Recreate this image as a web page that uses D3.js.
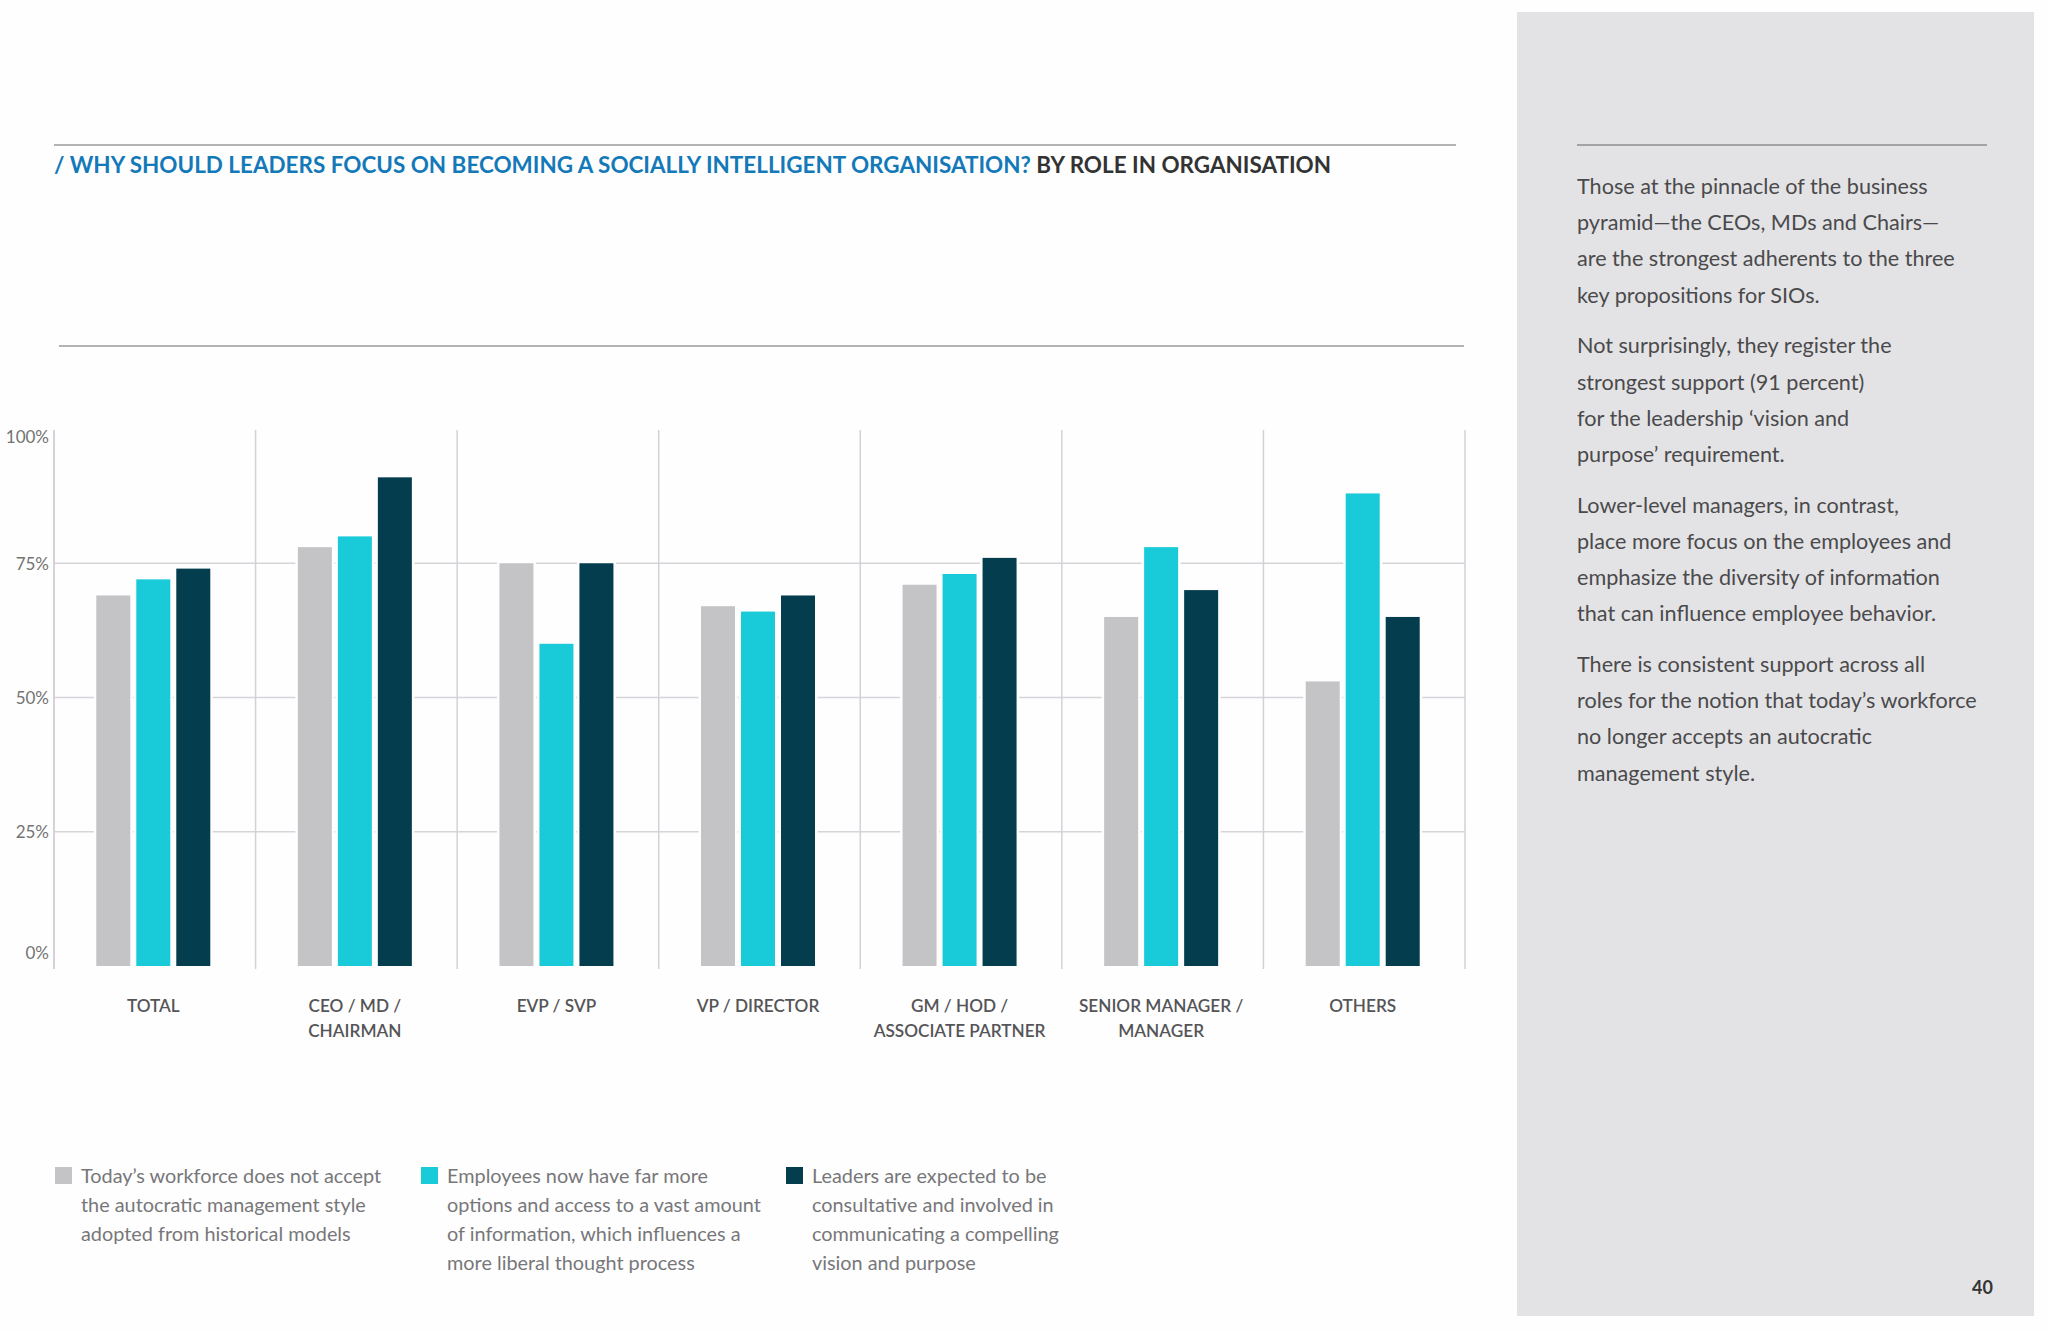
<!DOCTYPE html>
<html>
<head>
<meta charset="utf-8">
<script src="https://cdn.jsdelivr.net/npm/d3@7"></script>
<style>
  body { margin: 0; background: #fefefe; }
  svg { display: block; font-family: Lato, "Noto Sans", sans-serif; }
</style>
</head>
<body>
<svg id="page" width="2048" height="1331"></svg>
<script>
// chart data
var categories = ['TOTAL', 'CEO / MD /|CHAIRMAN', 'EVP / SVP', 'VP / DIRECTOR',
                  'GM / HOD /|ASSOCIATE PARTNER', 'SENIOR MANAGER /|MANAGER', 'OTHERS']
var seriesKeys = ['workforce', 'employees', 'leaders']
var workforce = [69, 78, 75, 67, 71, 65, 53]
var employees = [72, 80, 60, 66, 73, 78, 88]
var leaders   = [74, 91, 75, 69, 76, 70, 65]
var yTicks = [0, 25, 50, 75, 100]
var gridTicks = [25, 50, 75]

var legendTexts = [
  ['Today\u2019s workforce does not accept', 'the autocratic management style', 'adopted from historical models'],
  ['Employees now have far more', 'options and access to a vast amount', 'of information, which influences a', 'more liberal thought process'],
  ['Leaders are expected to be', 'consultative and involved in', 'communicating a compelling', 'vision and purpose']
]
var titleBlue = '/ WHY SHOULD LEADERS FOCUS ON BECOMING A SOCIALLY INTELLIGENT ORGANISATION?'
var titleDark = ' BY ROLE IN ORGANISATION'
var sideParagraphs = [
  ['Those at the pinnacle of the business', 'pyramid\u2014the CEOs, MDs and Chairs\u2014', 'are the strongest adherents to the three', 'key propositions for SIOs.'],
  ['Not surprisingly, they register the', 'strongest support (91 percent)', 'for the leadership \u2018vision and', 'purpose\u2019 requirement.'],
  ['Lower-level managers, in contrast,', 'place more focus on the employees and', 'emphasize the diversity of information', 'that can influence employee behavior.'],
  ['There is consistent support across all', 'roles for the notion that today\u2019s workforce', 'no longer accepts an autocratic', 'management style.']
]
var pageNumber = '40'

var colors = {workforce: '#c4c3c6', employees: '#19cad8', leaders: '#033d4e'}

var rows = categories.map(function(c, i){
	return {cat: c, workforce: workforce[i], employees: employees[i], leaders: leaders[i]}
})

var svg = d3.select('#page')

// size a font so that a sample line comes out at the wanted width
function fitSize(sample, weight, target, base){
	var t = svg.append('text').attr('font-size', base).attr('font-weight', weight).text(sample)
	var w = t.node().getComputedTextLength()
	t.remove()
	return base * target / w
}

// side panel
svg.append('rect').attr('x', 1517).attr('y', 12).attr('width', 517).attr('height', 1304).attr('fill', '#e3e3e5')
svg.append('line').attr('x1', 1577).attr('x2', 1987).attr('y1', 145).attr('y2', 145)
	.attr('stroke', '#8e8e90').attr('stroke-width', 1.5)

var sideSize = fitSize('roles for the notion that today\u2019s workforce', 400, 400, 20)
var lineNo = 0
sideParagraphs.forEach(function(p, pi){
	p.forEach(function(line){
		svg.append('text')
			.attr('x', 1577)
			.attr('y', 194 + lineNo * 36.2 + pi * 14.5)
			.attr('font-size', sideSize)
			.attr('fill', '#4a4a4c')
			.text(line)
		lineNo++
	})
})
svg.append('text').attr('x', 1993).attr('y', 1294).attr('text-anchor', 'end')
	.attr('font-size', 18).attr('font-weight', 700).attr('fill', '#333').text(pageNumber)

// title
svg.append('line').attr('x1', 54).attr('x2', 1456).attr('y1', 145).attr('y2', 145)
	.attr('stroke', '#9a9a9c').attr('stroke-width', 1.5)
var title = svg.append('text').attr('x', 54).attr('y', 173).attr('font-size', 22).attr('font-weight', 700)
title.append('tspan').attr('fill', '#1479b8').text(titleBlue)
title.append('tspan').attr('fill', '#333').text(titleDark)
title.attr('textLength', 1277).attr('lengthAdjust', 'spacingAndGlyphs')

svg.append('line').attr('x1', 59).attr('x2', 1464).attr('y1', 346).attr('y2', 346)
	.attr('stroke', '#9a9a9c').attr('stroke-width', 1.5)

// chart
var plotLeft = 54, plotRight = 1465, plotTop = 429, plotBottom = 966

var x = d3.scaleBand().domain(categories).range([plotLeft, plotRight]).padding(0)
var y = d3.scaleLinear().domain([0, 100]).range([plotBottom, plotTop])
var clusterW = 114
var x1 = d3.scaleBand().domain(seriesKeys).range([0, clusterW]).paddingInner(0.15)

var chart = svg.append('g')

chart.selectAll('.grid').data(gridTicks).enter().append('line')
	.attr('class', 'grid')
	.attr('x1', plotLeft).attr('x2', plotRight)
	.attr('y1', function(d){ return y(d) }).attr('y2', function(d){ return y(d) })
	.attr('stroke', '#d6d4d9').attr('stroke-width', 1.5)

var seps = [plotLeft].concat(categories.map(function(c){ return x(c) + x.bandwidth() }))
chart.selectAll('.sep').data(seps).enter().append('line')
	.attr('class', 'sep')
	.attr('x1', function(d){ return d }).attr('x2', function(d){ return d })
	.attr('y1', plotTop + 1).attr('y2', plotBottom + 3)
	.attr('stroke', '#d3d1d6').attr('stroke-width', 1.5)

var groups = chart.selectAll('.grp').data(rows).enter().append('g')
	.attr('class', 'grp')
	.attr('transform', function(d){
		return 'translate(' + (x(d.cat) + (x.bandwidth() - clusterW) / 2 - 1.5) + ',0)'
	})

function barData(d){
	return seriesKeys.map(function(k){ return {key: k, value: d[k]} })
}

// white halo that cuts the gridlines around each bar
groups.selectAll('.halo').data(barData).enter().append('rect')
	.attr('class', 'halo')
	.attr('x', function(d){ return x1(d.key) - 2.5 })
	.attr('y', function(d){ return y(d.value) - 2.5 })
	.attr('width', x1.bandwidth() + 5)
	.attr('height', function(d){ return plotBottom - y(d.value) + 2.5 })
	.attr('fill', '#fefefe')

groups.selectAll('.bar').data(barData).enter().append('rect')
	.attr('class', 'bar')
	.attr('x', function(d){ return x1(d.key) })
	.attr('y', function(d){ return y(d.value) })
	.attr('width', x1.bandwidth())
	.attr('height', function(d){ return plotBottom - y(d.value) })
	.attr('fill', function(d){ return colors[d.key] })

// y axis labels
var yAxis = d3.axisLeft(y).tickValues(yTicks).tickSize(0).tickPadding(5)
	.tickFormat(function(d){ return d + '%' })
var yg = chart.append('g').attr('transform', 'translate(' + plotLeft + ',0)').call(yAxis)
yg.select('.domain').remove()
yg.selectAll('text')
	.attr('font-family', 'Lato, sans-serif')
	.attr('font-size', 17)
	.attr('fill', '#737373')
	.attr('dy', function(d){ return d === 100 ? '0.8em' : d === 0 ? '-0.45em' : '0.35em' })
// the y axis line itself
chart.append('line').attr('x1', plotLeft).attr('x2', plotLeft).attr('y1', plotTop + 1).attr('y2', plotBottom + 3)
	.attr('stroke', '#d3d1d6').attr('stroke-width', 1.5)

// category labels
var catSize = fitSize('ASSOCIATE PARTNER', 600, 172, 17)
chart.selectAll('.cat').data(categories).enter().append('text')
	.attr('class', 'cat')
	.attr('text-anchor', 'middle')
	.attr('font-size', catSize)
	.attr('font-weight', 600)
	.attr('fill', '#555558')
	.each(function(d){
		var t = d3.select(this)
		d.split('|').forEach(function(s, i){
			t.append('tspan')
				.attr('x', x(d) + x.bandwidth() / 2 - 1.5)
				.attr('y', 1012 + i * 25)
				.text(s)
		})
	})

// legend
var legendX = [55, 421, 786]
var legSize = fitSize('options and access to a vast amount', 400, 314, 18)
var leg = svg.selectAll('.leg').data(seriesKeys).enter().append('g')
	.attr('class', 'leg')
	.attr('transform', function(d, i){ return 'translate(' + legendX[i] + ',1167)' })
leg.append('rect').attr('width', 17).attr('height', 17)
	.attr('fill', function(d){ return colors[d] })
leg.each(function(d, i){
	var g = d3.select(this)
	legendTexts[i].forEach(function(s, j){
		g.append('text')
			.attr('x', 26)
			.attr('y', 16 + j * 29)
			.attr('font-size', legSize)
			.attr('fill', '#77777a')
			.text(s)
	})
})
</script>
</body>
</html>
